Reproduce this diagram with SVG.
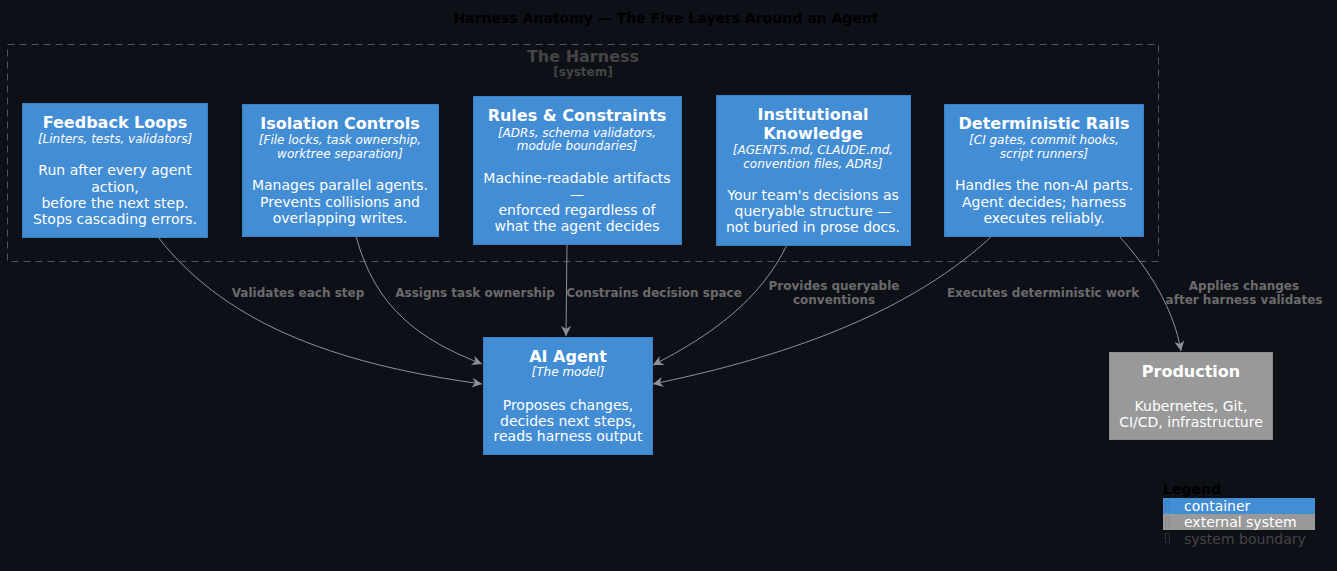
<svg xmlns="http://www.w3.org/2000/svg" width="1337" height="571" viewBox="0 0 1337 571">
<defs>
<style>
text{font-family:"DejaVu Sans","Liberation Sans",sans-serif;}
.t{font-size:16px;font-weight:bold;fill:#fff;text-anchor:middle}
.k{font-size:12px;font-style:italic;fill:#fff;text-anchor:middle}
.d{font-size:14px;fill:#fff;text-anchor:middle}
.c{fill:#438DD5;stroke:#3C7FC0;stroke-width:1}
.x{fill:#999999;stroke:#8A8A8A;stroke-width:1}
.e{fill:none;stroke:#8b929c;stroke-width:1}
.l{font-size:12px;font-weight:bold;fill:#6b6b6b;text-anchor:middle}
</style>
<marker id="ah" viewBox="0 0 10 10" refX="10" refY="5" markerWidth="10" markerHeight="10" markerUnits="userSpaceOnUse" orient="auto">
<path d="M0,0 L10,5 L0,10 L3,5 Z" fill="#8b929c"/>
</marker>
</defs>
<rect width="1337" height="571" fill="#0e1018"/>
<text x="666" y="23" style="font-size:14px;font-weight:bold;fill:#000;text-anchor:middle">Harness Anatomy — The Five Layers Around an Agent</text>

<g id="boundary">
<rect x="7.5" y="44.5" width="1151" height="217" fill="none" stroke="#555" stroke-dasharray="7,5"/>
<text x="583" y="62" style="font-size:16px;font-weight:bold;fill:#444;text-anchor:middle">The Harness</text>
<text x="583" y="76" style="font-size:12px;font-weight:bold;fill:#444;text-anchor:middle">[system]</text>
</g>

<g id="connectors">
<path class="e" d="M158,237 C230,330 350,366 482,384" marker-end="url(#ah)"/>
<path class="e" d="M356,236 C375,308 420,340 482,364" marker-end="url(#ah)"/>
<path class="e" d="M567,244 L566,336" marker-end="url(#ah)"/>
<path class="e" d="M787,245 C760,300 712,335 653,365" marker-end="url(#ah)"/>
<path class="e" d="M992,236 C900,322 760,362 653,384" marker-end="url(#ah)"/>
<path class="e" d="M1119,236 C1150,270 1174,310 1181,351" marker-end="url(#ah)"/>
<text class="l" x="298" y="297">Validates each step</text>
<text class="l" x="475" y="297">Assigns task ownership</text>
<text class="l" x="654" y="297">Constrains decision space</text>
<text class="l" x="834" y="290">Provides queryable</text>
<text class="l" x="834" y="304">conventions</text>
<text class="l" x="1043" y="297">Executes deterministic work</text>
<text class="l" x="1244" y="290">Applies changes</text>
<text class="l" x="1244" y="304">after harness validates</text>
</g>

<g id="feedback">
<rect class="c" x="22.5" y="103.5" width="185" height="134"/>
<text class="t" x="115" y="128">Feedback Loops</text>
<text class="k" x="115" y="143">[Linters, tests, validators]</text>
<text class="d" x="115" y="175">Run after every agent</text>
<text class="d" x="115" y="192">action,</text>
<text class="d" x="115" y="208">before the next step.</text>
<text class="d" x="115" y="224">Stops cascading errors.</text>
</g>

<g id="isolation">
<rect class="c" x="242.5" y="104.5" width="196" height="132"/>
<text class="t" x="340" y="129">Isolation Controls</text>
<text class="k" x="340" y="144">[File locks, task ownership,</text>
<text class="k" x="340" y="158">worktree separation]</text>
<text class="d" x="340" y="190">Manages parallel agents.</text>
<text class="d" x="340" y="206.5">Prevents collisions and</text>
<text class="d" x="340" y="222.5">overlapping writes.</text>
</g>

<g id="rules">
<rect class="c" x="473.5" y="96.5" width="208" height="148"/>
<text class="t" x="577" y="121">Rules &amp; Constraints</text>
<text class="k" x="577" y="136.5">[ADRs, schema validators,</text>
<text class="k" x="577" y="150">module boundaries]</text>
<text class="d" x="577" y="182.5">Machine-readable artifacts</text>
<text class="d" x="577" y="199">—</text>
<text class="d" x="577" y="215">enforced regardless of</text>
<text class="d" x="577" y="231">what the agent decides</text>
</g>

<g id="knowledge">
<rect class="c" x="716.5" y="95.5" width="194" height="150"/>
<text class="t" x="813" y="120">Institutional</text>
<text class="t" x="813" y="139">Knowledge</text>
<text class="k" x="813" y="154">[AGENTS.md, CLAUDE.md,</text>
<text class="k" x="813" y="167.5">convention files, ADRs]</text>
<text class="d" x="813" y="200">Your team's decisions as</text>
<text class="d" x="813" y="216">queryable structure —</text>
<text class="d" x="813" y="232">not buried in prose docs.</text>
</g>

<g id="rails">
<rect class="c" x="944.5" y="104.5" width="199" height="132"/>
<text class="t" x="1044" y="129">Deterministic Rails</text>
<text class="k" x="1044" y="144">[CI gates, commit hooks,</text>
<text class="k" x="1044" y="158">script runners]</text>
<text class="d" x="1044" y="190">Handles the non-AI parts.</text>
<text class="d" x="1044" y="206.5">Agent decides; harness</text>
<text class="d" x="1044" y="222.5">executes reliably.</text>
</g>

<g id="agent">
<rect class="c" x="483.5" y="337.5" width="169" height="117"/>
<text class="t" x="568" y="362">AI Agent</text>
<text class="k" x="568" y="376">[The model]</text>
<text class="d" x="568" y="409.5">Proposes changes,</text>
<text class="d" x="568" y="425.5">decides next steps,</text>
<text class="d" x="568" y="441">reads harness output</text>
</g>

<g id="production">
<rect class="x" x="1109.5" y="352.5" width="163" height="87"/>
<text class="t" x="1191" y="377">Production</text>
<text class="d" x="1191" y="411">Kubernetes, Git,</text>
<text class="d" x="1191" y="427">CI/CD, infrastructure</text>
</g>

<g id="legend">
<text x="1163" y="494" style="font-size:14px;font-weight:bold;fill:#000">Legend</text>
<rect x="1163" y="498" width="152" height="16" fill="#438DD5"/>
<rect x="1163" y="514" width="152" height="16" fill="#999999"/>
<rect x="1165.5" y="501.5" width="4" height="9" fill="none" stroke="#3a78b8" stroke-width="0.8"/>
<rect x="1165.5" y="517.5" width="4" height="9" fill="none" stroke="#858585" stroke-width="0.8"/>
<rect x="1165.5" y="533.5" width="4" height="9" fill="none" stroke="#333" stroke-width="0.8"/>
<text x="1184" y="511" style="font-size:14px;fill:#fff">container</text>
<text x="1184" y="527" style="font-size:14px;fill:#fff">external system</text>
<text x="1184" y="543.5" style="font-size:14px;fill:#444">system boundary</text>
</g>
</svg>
